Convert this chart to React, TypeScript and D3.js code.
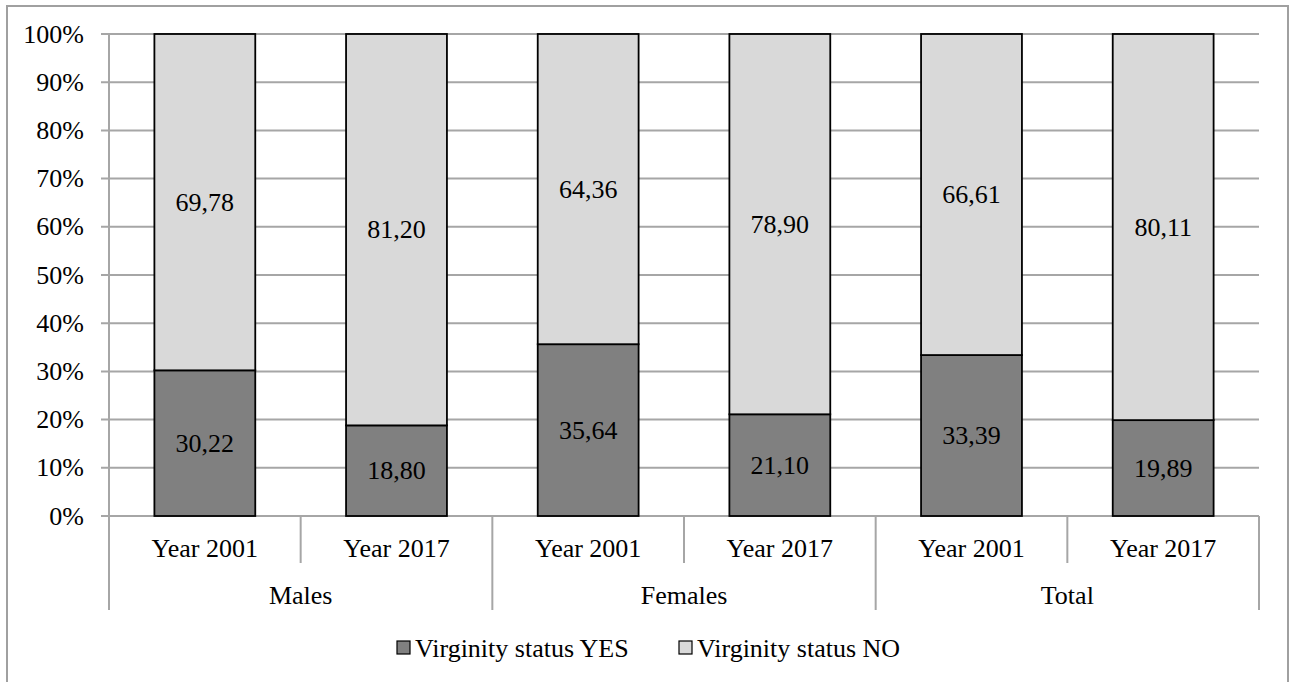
import React from "react";
import * as d3 from "d3";

const groups = ["Males", "Females", "Total"];
const years = ["Year 2001", "Year 2017"];
const yesValues = [30.22, 18.8, 35.64, 21.1, 33.39, 19.89];
const noValues = [69.78, 81.2, 64.36, 78.9, 66.61, 80.11];
const seriesNames = ["Virginity status YES", "Virginity status NO"];
const yTicks = [0, 10, 20, 30, 40, 50, 60, 70, 80, 90, 100];

const W = 1295;
const H = 682;
const FONT = '"Liberation Serif", "Times New Roman", Times, "DejaVu Serif", serif';
const FS = 26;

export default function App() {
  const cats = groups.flatMap((g) => years.map((y) => `${g}|${y}`));
  const left = 109;
  const right = 1259;
  const top = 34;
  const bottom = 516;
  const x = d3
    .scaleBand<string>()
    .domain(cats)
    .range([left, right])
    .paddingInner(0.4737)
    .paddingOuter(0.23685);
  const step = x.step();
  const y = d3.scaleLinear().domain([0, 100]).range([bottom, top]);
  const fmt = (v: number) => v.toFixed(2).replace(".", ",");
  const gridColor = "#a6a6a6";
  const ts: React.CSSProperties = { fontFamily: FONT, fontSize: FS };

  const catStart = (i: number) => left + i * step;

  return (
    <svg
      width={W}
      height={H}
      style={{ position: "absolute", left: 0, top: 0, background: "#fff", fontFamily: FONT }}
    >
      <rect x={7} y={6} width={1281} height={700} fill="#fff" stroke="#a0a0a0" strokeWidth={2} />
      {yTicks.map((t) => (
        <line key={t} x1={101} x2={right} y1={y(t)} y2={y(t)} stroke={gridColor} strokeWidth={2} />
      ))}
      <line x1={left} x2={left} y1={top} y2={610} stroke={gridColor} strokeWidth={2} />
      {yTicks.map((t) => (
        <text key={"l" + t} x={84} y={y(t)} textAnchor="end" dominantBaseline="central" style={ts} fill="#000">
          {t}%
        </text>
      ))}
      {cats.map((c, i) =>
        i === 0 ? null : (
          <line
            key={"s" + c}
            x1={catStart(i)}
            x2={catStart(i)}
            y1={bottom}
            y2={i % 2 === 0 ? 610 : 563}
            stroke={gridColor}
            strokeWidth={2}
          />
        )
      )}
      <line x1={right} x2={right} y1={bottom} y2={610} stroke={gridColor} strokeWidth={2} />
      {cats.map((c, i) => {
        const bx = x(c)!;
        const bw = x.bandwidth();
        const yes = yesValues[i];
        const no = noValues[i];
        return (
          <g key={c}>
            <rect x={bx} y={y(yes)} width={bw} height={y(0) - y(yes)} fill="#808080" stroke="#000" strokeWidth={1.8} />
            <rect x={bx} y={y(yes + no)} width={bw} height={y(yes) - y(yes + no)} fill="#d9d9d9" stroke="#000" strokeWidth={1.8} />
            <text x={bx + bw / 2} y={(y(0) + y(yes)) / 2} textAnchor="middle" dominantBaseline="central" style={ts}>
              {fmt(yes)}
            </text>
            <text x={bx + bw / 2} y={(y(yes) + y(yes + no)) / 2} textAnchor="middle" dominantBaseline="central" style={ts}>
              {fmt(no)}
            </text>
          </g>
        );
      })}
      {cats.map((c, i) => (
        <text key={"c" + c} x={catStart(i) + step / 2} y={548} textAnchor="middle" dominantBaseline="central" style={ts}>
          {years[i % 2]}
        </text>
      ))}
      {groups.map((g, gi) => (
        <text key={g} x={catStart(gi * 2) + step} y={595} textAnchor="middle" dominantBaseline="central" style={ts}>
          {g}
        </text>
      ))}
      {seriesNames.map((s, i) => {
        const lx = i === 0 ? 397 : 679;
        return (
          <g key={s}>
            <rect x={lx} y={641} width={13} height={13} fill={i === 0 ? "#808080" : "#d9d9d9"} stroke="#000" strokeWidth={1.2} />
            <text x={lx + 18} y={648} dominantBaseline="central" style={ts}>
              {s}
            </text>
          </g>
        );
      })}
    </svg>
  );
}
